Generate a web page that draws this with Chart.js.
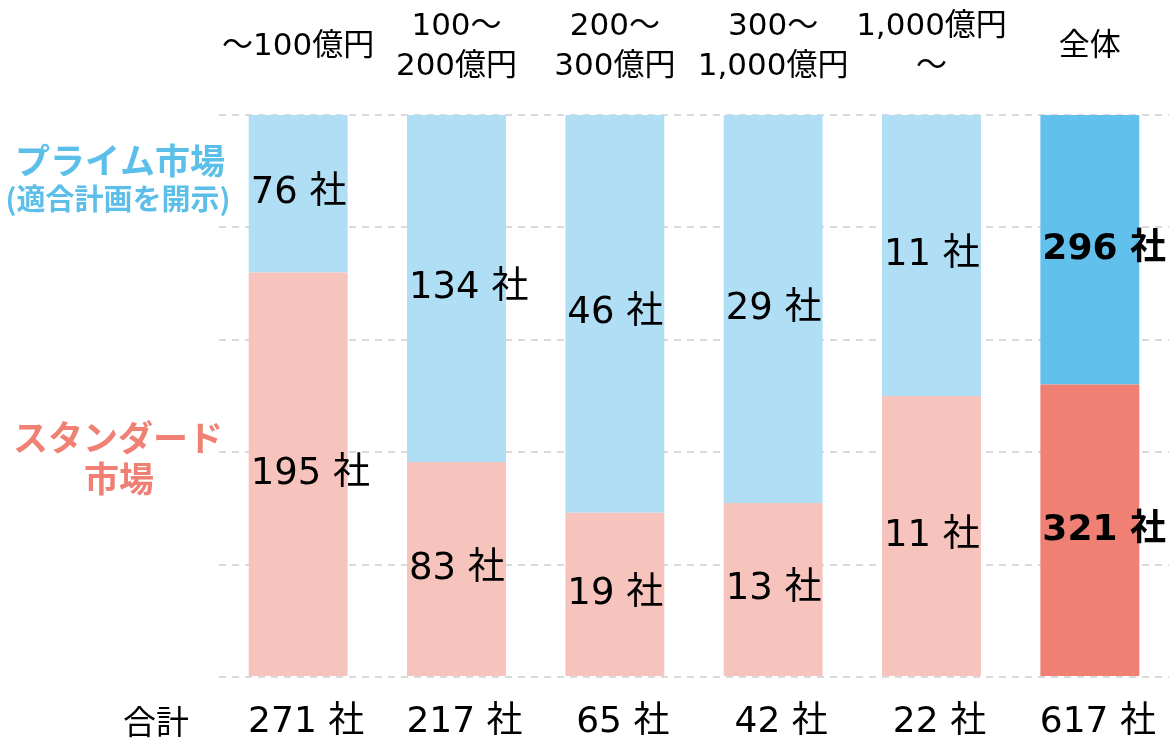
<!DOCTYPE html>
<html lang="ja">
<head>
<meta charset="utf-8">
<title>市場区分別・時価総額別の社数</title>
<script src="https://cdn.jsdelivr.net/npm/chart.js@4.4.1/dist/chart.umd.min.js"></script>
<style>
  html, body { margin: 0; padding: 0; background: #ffffff; }
  #c { display: block; }
</style>
</head>
<body>
<canvas id="c" width="1169" height="739"></canvas>
<script>
// Market-cap bands (top axis) and company counts per market segment
const categories = ['〜100億円', ['100〜', '200億円'], ['200〜', '300億円'], ['300〜', '1,000億円'], ['1,000億円', '〜'], '全体'];
const primeCounts = [76, 134, 46, 29, 11, 296];
const standardCounts = [195, 83, 19, 13, 11, 321];
const unit = '社';
const totalLabel = '合計';

// Derived: totals per band and 100% shares for stacking
const totals = primeCounts.map((p, i) => p + standardCounts[i]);
const primeShare = primeCounts.map((p, i) => p / totals[i] * 100);
const standardShare = standardCounts.map((s, i) => s / totals[i] * 100);
const totalTickLabels = totals.map(t => t + ' ' + unit);

const FONT = "'DejaVu Sans', 'Noto Sans CJK JP', sans-serif";
const CJK = "'Noto Sans CJK JP', sans-serif";
const lastIdx = categories.length - 1;
const primeColors = categories.map((_, i) => i === lastIdx ? '#62c1ec' : '#b0dff5');
const standardColors = categories.map((_, i) => i === lastIdx ? '#f08074' : '#f7c4bd');

// Count labels inside each bar segment
const segmentLabels = {
  id: 'segmentLabels',
  afterDatasetsDraw(chart) {
    const ctx = chart.ctx;
    ctx.save();
    ctx.textAlign = 'left';
    ctx.textBaseline = 'middle';
    ctx.fillStyle = '#000000';
    chart.data.datasets.forEach((ds, di) => {
      const meta = chart.getDatasetMeta(di);
      meta.data.forEach((bar, i) => {
        const bold = i === lastIdx;
        ctx.font = bold ? 'bold 36px ' + FONT : '37px ' + FONT;
        const left = bar.x - bar.width / 2 + 2;
        const mid = (bar.y + bar.base) / 2;
        ctx.fillText(ds.counts[i] + ' ' + unit, left, mid);
      });
    });
    ctx.restore();
  }
};

// Segment names on the left and the row caption for totals
const sideLabels = {
  id: 'sideLabels',
  afterDraw(chart) {
    const ctx = chart.ctx;
    const area = chart.chartArea;
    ctx.save();
    ctx.textAlign = 'center';
    ctx.textBaseline = 'middle';
    ctx.fillStyle = '#5bbfea';
    ctx.font = 'bold 35px ' + CJK;
    ctx.fillText('プライム市場', 120, 161);
    ctx.font = 'bold 29px ' + CJK;
    ctx.fillText('(適合計画を開示)', 118, 199);
    ctx.fillStyle = '#ef8073';
    ctx.font = 'bold 35px ' + CJK;
    ctx.fillText('スタンダード', 118, 438);
    ctx.fillText('市場', 119, 479);
    ctx.fillStyle = '#000000';
    ctx.font = '33px ' + CJK;
    ctx.fillText(totalLabel, 156, area.bottom + 44);
    ctx.restore();
  }
};

// Keep the plot edges fixed: no extra side padding for overhanging tick labels
function noSidePadding(scale) {
  scale.paddingLeft = 0;
  scale.paddingRight = 0;
}

new Chart(document.getElementById('c'), {
  type: 'bar',
  data: {
    labels: categories,
    datasets: [
      { label: 'スタンダード市場', data: standardShare, counts: standardCounts, backgroundColor: standardColors, borderWidth: 0, xAxisID: 'x', stack: 'm' },
      { label: 'プライム市場', data: primeShare, counts: primeCounts, backgroundColor: primeColors, borderWidth: 0, xAxisID: 'x', stack: 'm' }
    ]
  },
  options: {
    responsive: false,
    devicePixelRatio: 1,
    animation: false,
    layout: { padding: 0 },
    datasets: { bar: { barPercentage: 0.625, categoryPercentage: 1 } },
    plugins: { legend: { display: false }, tooltip: { enabled: false } },
    scales: {
      x: {
        position: 'top',
        stacked: true,
        grid: { display: false, drawTicks: false },
        border: { display: false },
        ticks: {
          color: '#000000',
          font: { family: FONT, size: 31, lineHeight: 1.3 },
          padding: 48,
          crossAlign: 'center',
          maxRotation: 0,
          autoSkip: false
        },
        afterFit(scale) { scale.height = 115; noSidePadding(scale); }
      },
      x2: {
        type: 'category',
        position: 'bottom',
        labels: totalTickLabels,
        offset: true,
        grid: { display: false, drawTicks: false },
        border: { display: false },
        ticks: {
          color: '#000000',
          font: { family: FONT, size: 36, lineHeight: 1 },
          padding: 28,
          labelOffset: 8,
          maxRotation: 0,
          autoSkip: false
        },
        afterFit(scale) { scale.height = 62; noSidePadding(scale); }
      },
      y: {
        stacked: true,
        min: 0,
        max: 100,
        ticks: { display: false, stepSize: 20 },
        grid: { color: '#dadada', lineWidth: 2, drawTicks: false },
        border: { display: false, dash: [7, 6] },
        afterFit(scale) { scale.width = 219; }
      }
    }
  },
  plugins: [segmentLabels, sideLabels]
});
</script>
</body>
</html>
